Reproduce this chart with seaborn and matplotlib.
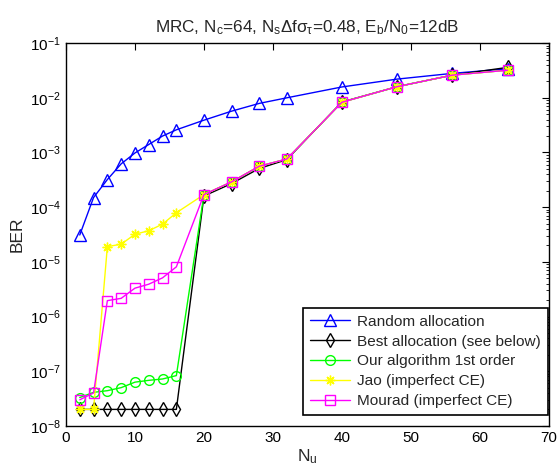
import matplotlib
matplotlib.use("Agg")
import matplotlib.pyplot as plt
import seaborn as sns
import numpy as np
import pandas as pd

x_vals = [2, 4, 6, 8, 10, 12, 14, 16, 20, 24, 28, 32, 40, 48, 56, 64]
random_alloc = [3.1e-5, 1.5e-4, 3.2e-4, 6.2e-4, 9.8e-4, 1.4e-3, 2.0e-3, 2.6e-3,
                3.9e-3, 5.7e-3, 7.9e-3, 1.0e-2, 1.58e-2, 2.2e-2, 2.8e-2, 3.4e-2]
best_alloc = [2e-8, 2e-8, 2e-8, 2e-8, 2e-8, 2e-8, 2e-8, 2e-8,
              1.6e-4, 2.7e-4, 5.1e-4, 7.4e-4, 8.4e-3, 1.6e-2, 2.6e-2, 3.6e-2]
our_alg = [3.3e-8, 4.1e-8, 4.4e-8, 5.0e-8, 6.3e-8, 6.8e-8, 7.2e-8, 8.3e-8,
           1.7e-4, 2.9e-4, 5.6e-4, 7.6e-4, 8.3e-3, 1.6e-2, 2.6e-2, 3.2e-2]
jao = [2e-8, 2e-8, 1.9e-5, 2.1e-5, 3.2e-5, 3.7e-5, 4.9e-5, 7.9e-5,
       1.7e-4, 2.9e-4, 5.6e-4, 7.6e-4, 8.3e-3, 1.6e-2, 2.6e-2, 3.2e-2]
mourad = [3.0e-8, 4.0e-8, 1.95e-6, 2.15e-6, 3.3e-6, 3.9e-6, 5.1e-6, 8.1e-6,
          1.7e-4, 2.9e-4, 5.6e-4, 7.6e-4, 8.3e-3, 1.6e-2, 2.6e-2, 3.2e-2]

labels = ["Random allocation", "Best allocation (see below)", "Our algorithm 1st order",
          "Jao (imperfect CE)", "Mourad (imperfect CE)"]
series = [random_alloc, best_alloc, our_alg, jao, mourad]
colors = ["#0000ff", "#000000", "#00ff00", "#ffff00", "#ff00ff"]
markers = ["^", "d", "o", (8, 2, 0), "s"]
msizes = [8, 7, 7, 7, 7]

sns.set_style("white")
plt.rcParams["font.family"] = ["Liberation Sans", "DejaVu Sans"]
plt.rcParams["mathtext.fontset"] = "custom"
plt.rcParams["mathtext.rm"] = "Liberation Sans"
plt.rcParams["mathtext.it"] = "Liberation Sans:italic"
plt.rcParams["mathtext.default"] = "regular"

fig = plt.figure(figsize=(5.59, 4.69), dpi=100)
ax = fig.add_axes([0.118, 0.092, 0.864, 0.816])

for lab, ys, c, m, ms in zip(labels, series, colors, markers, msizes):
    df = pd.DataFrame({"Nu": x_vals, "BER": ys})
    sns.lineplot(data=df, x="Nu", y="BER", ax=ax, color=c, marker=m,
                 markersize=ms, markerfacecolor="none", markeredgecolor=c,
                 markeredgewidth=1.0, linewidth=1.0, label=lab)

ax.set_yscale("log")
ax.set_ylim(1e-8, 1e-1)
ax.set_xlim(0, 70)
ax.set_xticks(np.arange(0, 71, 10))
ax.tick_params(axis="both", which="both", direction="in", top=True, right=True,
               labelsize=11, colors="black")
ax.tick_params(axis="both", which="major", length=5, width=0.8)
ax.tick_params(axis="y", which="minor", length=2.5, width=0.6)
for s in ax.spines.values():
    s.set_color("black")
    s.set_linewidth(1.0)

ax.set_xlabel("N$_u$", fontsize=12.5, labelpad=2)
ax.set_ylabel("BER", fontsize=12.5, labelpad=4)
ax.set_title(r"MRC, N$_c$=64, N$_s$$\Delta$f$\sigma_\tau$=0.48, E$_b$/N$_0$=12dB",
             fontsize=12.3, pad=8)

leg = ax.legend(loc="lower right", bbox_to_anchor=(0.998, 0.028), fontsize=11.1,
                frameon=True, fancybox=False, edgecolor="black", borderaxespad=0.0,
                handlelength=2.6, labelspacing=0.38, borderpad=0.45, handletextpad=0.45)
leg.get_frame().set_linewidth(1.2)
leg.get_frame().set_alpha(1)

fig.savefig("out.png", dpi=100)
